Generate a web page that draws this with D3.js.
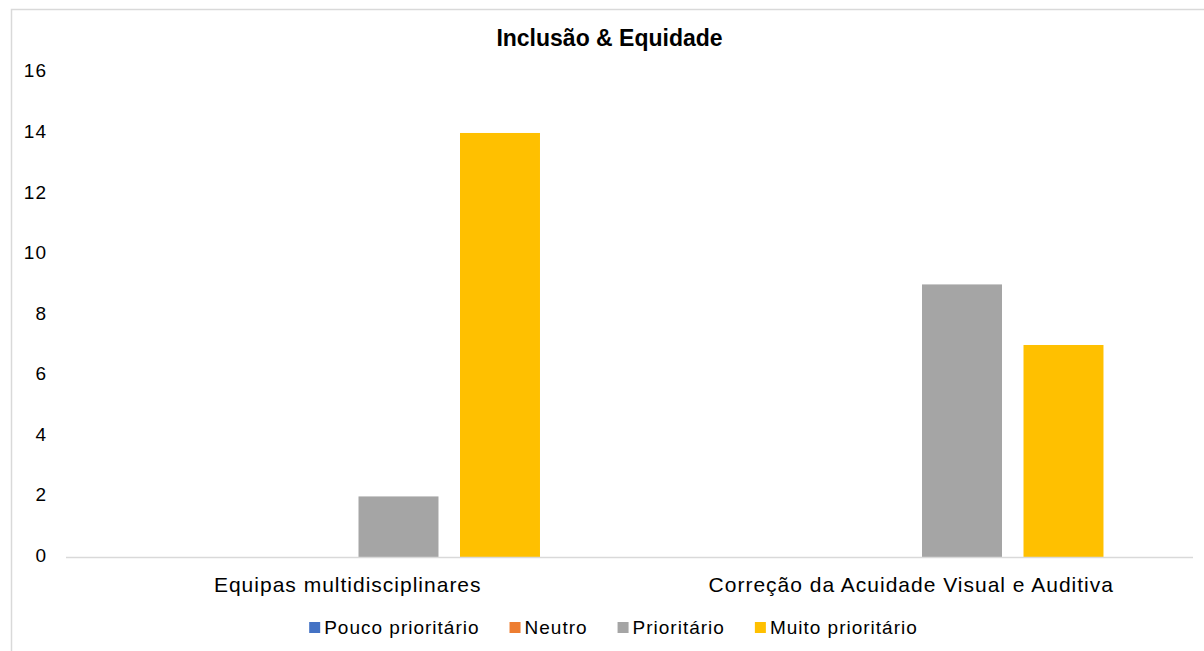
<!DOCTYPE html>
<html><head><meta charset="utf-8">
<script src="https://cdn.jsdelivr.net/npm/d3@7"></script>
<style>body{margin:0;background:#fff;} svg{display:block;font-family:"Liberation Sans",Arial,sans-serif;}</style>
</head><body>
<svg id="c" width="1204" height="651"></svg>
<script>
const categories = ["Equipas multidisciplinares", "Correção da Acuidade Visual e Auditiva"];
const seriesNames = ["Pouco prioritário", "Neutro", "Prioritário", "Muito prioritário"];
const seriesColors = ["#4472C4", "#ED7D31", "#A5A5A5", "#FFC000"];
const pouco = [0, 0];
const neutro = [0, 0];
const prioritario = [2, 9];
const muito = [14, 7];
const yTicks = [0, 2, 4, 6, 8, 10, 12, 14, 16];
const title = "Inclusão & Equidade";

const values = [pouco, neutro, prioritario, muito];
const svg = d3.select("#c");
const FONT = "Liberation Sans, Arial, sans-serif";

// chart border
svg.append("rect").attr("x", 11.5).attr("y", 9.5).attr("width", 1250).attr("height", 700)
  .attr("fill", "none").attr("stroke", "#d9d9d9").attr("stroke-width", 1.5);

const pLeft = 66, pRight = 1193, pTop = 72.4, pBottom = 557;
const x0 = d3.scaleBand().domain(categories).range([pLeft, pRight]).padding(0);
const x1 = d3.scaleBand().domain(seriesNames).range([0, x0.bandwidth()]).paddingInner(0.212).paddingOuter(0.882);
const y = d3.scaleLinear().domain([0, 16]).range([pBottom, pTop]);

svg.append("text").attr("x", 609.5).attr("y", 46).attr("text-anchor", "middle")
  .attr("font-weight", "bold").attr("font-size", 23).attr("fill", "#000").text(title);

// y axis labels
const yAxis = d3.axisLeft(y).tickValues(yTicks).tickSize(0).tickPadding(0);
const gy = svg.append("g").attr("transform", `translate(47,0)`).call(yAxis);
gy.select(".domain").remove();
gy.selectAll("text").attr("font-size", 19).attr("fill", "#000").attr("font-family", FONT)
  .attr("letter-spacing", 1).attr("dy", "0.24em");

// bars
categories.forEach((c, ci) => {
  seriesNames.forEach((s, si) => {
    const v = values[si][ci];
    svg.append("rect")
      .attr("x", x0(c) + x1(s))
      .attr("y", y(v))
      .attr("width", x1.bandwidth())
      .attr("height", pBottom - y(v))
      .attr("fill", seriesColors[si]);
  });
});

// baseline
svg.append("line").attr("x1", pLeft).attr("x2", pRight).attr("y1", pBottom + 0.5).attr("y2", pBottom + 0.5)
  .attr("stroke", "#d9d9d9").attr("stroke-width", 1.5);

// x axis labels
const xAxis = d3.axisBottom(x0).tickSize(0).tickPadding(0);
const gx = svg.append("g").attr("transform", `translate(0,${pBottom})`).call(xAxis);
gx.select(".domain").remove();
gx.selectAll("text").attr("font-size", 21).attr("fill", "#000").attr("dy", 0).attr("y", 35)
  .attr("letter-spacing", 1).attr("font-family", FONT);

// legend
const lg = svg.append("g");
const items = seriesNames.map((s, i) => {
  const g = lg.append("g");
  g.append("rect").attr("x", 0).attr("y", -12).attr("width", 11).attr("height", 11).attr("fill", seriesColors[i]);
  const t = g.append("text").attr("x", 15).attr("y", 0).attr("font-size", 19).attr("letter-spacing", 1)
    .attr("fill", "#000").text(s);
  return {g, w: 15 + t.node().getComputedTextLength()};
});
const gap = 30;
const total = d3.sum(items, d => d.w) + gap * (items.length - 1);
let cx = 613.5 - total / 2;
items.forEach(it => { it.g.attr("transform", `translate(${cx},634)`); cx += it.w + gap; });
</script>
</body></html>
